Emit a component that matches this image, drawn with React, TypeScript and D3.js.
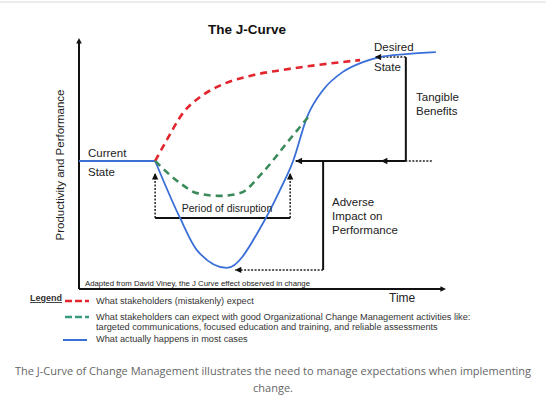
import * as d3 from 'd3';

type Pt = { t: number; p: number };

// time (0-100) vs productivity (0-100)
const currentState: Pt[] = [
  { t: 0, p: 51 },
  { t: 20.8, p: 51 },
];

const actualCurve: Pt[] = [
  { t: 20.8, p: 51 },
  { t: 27.6, p: 28.3 },
  { t: 32.2, p: 15.5 },
  { t: 40.4, p: 8.4 },
  { t: 50.3, p: 26.3 },
  { t: 54.9, p: 39.4 },
  { t: 58.5, p: 51 },
  { t: 62.3, p: 68.5 },
  { t: 66.7, p: 79.3 },
  { t: 72.1, p: 86.5 },
  { t: 77.6, p: 90.4 },
  { t: 82.2, p: 92.4 },
  { t: 89.3, p: 93.6 },
  { t: 97.5, p: 94.4 },
];

const expectedCurve: Pt[] = [
  { t: 20.8, p: 51 },
  { t: 24.0, p: 59.4 },
  { t: 28.4, p: 70.1 },
  { t: 33.1, p: 76.5 },
  { t: 37.7, p: 80.5 },
  { t: 46.7, p: 84.9 },
  { t: 55.7, p: 87.3 },
  { t: 65.0, p: 89.2 },
  { t: 76.8, p: 91.2 },
];

const managedCurve: Pt[] = [
  { t: 20.8, p: 51 },
  { t: 27.6, p: 42.2 },
  { t: 32.2, p: 38.2 },
  { t: 38.5, p: 37.1 },
  { t: 44.0, p: 38.2 },
  { t: 50.3, p: 46.6 },
  { t: 56.8, p: 58.2 },
  { t: 62.6, p: 68.5 },
];

// annotation segments: [t1, p1, t2, p2]
const solidSegments: number[][] = [
  [89.3, 92.4, 89.3, 51], // tangible benefits vertical
  [89.3, 51, 59.2, 51], // current level back to curve
  [66.7, 51, 66.7, 7.6], // adverse impact vertical
  [20.8, 28.3, 57.7, 28.3], // period of disruption base
];
const dottedSegments: number[][] = [
  [96.4, 51, 89.3, 51],
  [89.3, 92.4, 80.8, 92.4],
  [66.7, 7.6, 42.6, 7.6],
  [20.8, 28.3, 20.8, 46.2],
  [57.7, 28.3, 57.7, 46.2],
];
const arrowHeads: { t: number; p: number; dir: 'left' | 'up' }[] = [
  { t: 80.8, p: 92.4, dir: 'left' },
  { t: 82.5, p: 51, dir: 'left' },
  { t: 59.2, p: 51, dir: 'left' },
  { t: 42.6, p: 7.6, dir: 'left' },
  { t: 20.8, p: 46.2, dir: 'up' },
  { t: 57.7, p: 46.2, dir: 'up' },
];

const legendItems = [
  { key: 'expected', lines: ['What stakeholders (mistakenly) expect'] },
  {
    key: 'managed',
    lines: [
      'What stakeholders can expect with good Organizational Change Management activities like:',
      'targeted communications, focused education and training, and reliable assessments',
    ],
  },
  { key: 'actual', lines: ['What actually happens in most cases'] },
];

const captionLines = [
  'The J-Curve of Change Management illustrates the need to manage expectations when implementing',
  'change.',
];

const RED = '#e3262d';
const GREEN = '#3c8a5c';
const TEAL = '#3a9a80';
const BLUE = '#3a6fd8';
const FONT = '"Liberation Sans", Arial, sans-serif';

export default function App() {
  const x = d3.scaleLinear().domain([0, 100]).range([79, 445]);
  const y = d3.scaleLinear().domain([0, 100]).range([289, 38]);

  const curve = d3
    .line<Pt>()
    .x((d) => x(d.t))
    .y((d) => y(d.p))
    .curve(d3.curveMonotoneX);
  const straight = d3
    .line<Pt>()
    .x((d) => x(d.t))
    .y((d) => y(d.p));

  const head = (cx: number, cy: number, dir: string, s = 4) =>
    dir === 'left'
      ? `M${cx},${cy} L${cx + s * 1.6},${cy - s * 0.8} L${cx + s * 1.6},${cy + s * 0.8} Z`
      : dir === 'right'
      ? `M${cx},${cy} L${cx - s * 1.6},${cy - s * 0.8} L${cx - s * 1.6},${cy + s * 0.8} Z`
      : `M${cx},${cy} L${cx - s * 0.8},${cy + s * 1.6} L${cx + s * 0.8},${cy + s * 1.6} Z`;

  const legendY = [301, 317, 340];
  const legendText = [303.5, 319.5, 341.5];

  return (
    <svg
      width={546}
      height={403}
      style={{ position: 'absolute', left: 0, top: 0, background: '#fff' }}
      fontFamily={FONT}
    >
      <line x1={0} x2={546} y1={2} y2={2} stroke="#e6e6e6" strokeWidth={1.5} />

      <text x={247} y={34} textAnchor="middle" fontSize={13.5} fontWeight="bold" fill="#111">
        The J-Curve
      </text>

      {/* axes */}
      <line x1={x(0)} x2={x(0)} y1={y(0)} y2={y(100) + 4} stroke="#111" strokeWidth={2} />
      <path d={head(x(0), y(100), 'up', 3.5)} fill="#111" />
      <line x1={x(0)} x2={x(100) - 4} y1={y(0)} y2={y(0)} stroke="#111" strokeWidth={2} />
      <path d={head(x(100) + 1, y(0), 'right', 3.5)} fill="#111" />

      <text
        transform={`translate(64,${165}) rotate(-90)`}
        textAnchor="middle"
        fontSize={11.5}
        fill="#222"
      >
        Productivity and Performance
      </text>
      <text x={389} y={302} fontSize={12} fill="#222">
        Time
      </text>

      {/* annotation lines */}
      {solidSegments.map((s, i) => (
        <line
          key={'s' + i}
          x1={x(s[0])}
          y1={y(s[1])}
          x2={x(s[2])}
          y2={y(s[3])}
          stroke="#111"
          strokeWidth={2}
        />
      ))}
      {dottedSegments.map((s, i) => (
        <line
          key={'d' + i}
          x1={x(s[0])}
          y1={y(s[1])}
          x2={x(s[2])}
          y2={y(s[3])}
          stroke="#222"
          strokeWidth={1.5}
          strokeDasharray="2,1.5"
        />
      ))}

      {/* curves */}
      <path d={straight(currentState)!} fill="none" stroke={BLUE} strokeWidth={2} />
      <path d={curve(actualCurve)!} fill="none" stroke={BLUE} strokeWidth={1.8} />
      <path
        d={curve(expectedCurve)!}
        fill="none"
        stroke={RED}
        strokeWidth={2.6}
        strokeDasharray="7,5"
      />
      <path
        d={curve(managedCurve)!}
        fill="none"
        stroke={GREEN}
        strokeWidth={2.6}
        strokeDasharray="7,5"
      />

      {arrowHeads.map((a, i) => (
        <path key={'a' + i} d={head(x(a.t), y(a.p), a.dir)} fill="#111" />
      ))}

      {/* labels */}
      <g fontSize={11.5} fill="#222">
        <text x={88} y={157}>Current</text>
        <text x={88} y={176}>State</text>
        <text x={374} y={51}>Desired</text>
        <text x={374} y={71}>State</text>
        <text x={416} y={101}>Tangible</text>
        <text x={416} y={115}>Benefits</text>
        <text x={332} y={206}>Adverse</text>
        <text x={332} y={220}>Impact on</text>
        <text x={332} y={234}>Performance</text>
        <text x={227} y={212} textAnchor="middle" fontSize={10.5}>
          Period of disruption
        </text>
      </g>
      <text
        x={85}
        y={286}
        fontSize={8}
        fill="#222"
        textLength={225}
        lengthAdjust="spacingAndGlyphs"
      >
        Adapted from David Viney, the J Curve effect observed in change
      </text>

      {/* legend */}
      <text x={30} y={301} fontSize={9} fontWeight="bold" fill="#333" textDecoration="underline">
        Legend
      </text>
      <line x1={65} x2={89} y1={legendY[0]} y2={legendY[0]} stroke={RED} strokeWidth={2.4} strokeDasharray="7,3" />
      <line x1={65} x2={89} y1={legendY[1]} y2={legendY[1]} stroke={TEAL} strokeWidth={2.4} strokeDasharray="7,3" />
      <line x1={63} x2={87} y1={legendY[2]} y2={legendY[2]} stroke={BLUE} strokeWidth={2} />
      <g fontSize={9.2} fill="#333">
        {legendItems.map((item, i) =>
          item.lines.map((ln, j) => (
            <text key={item.key + j} x={96} y={legendText[i] + j * 10}>
              {ln}
            </text>
          ))
        )}
      </g>

      {/* caption */}
      <g fontFamily='"Open Sans", sans-serif' fontSize={11} fill="#666" textAnchor="middle">
        {captionLines.map((ln, i) => (
          <text key={i} x={273} y={375 + i * 17}>
            {ln}
          </text>
        ))}
      </g>
    </svg>
  );
}
